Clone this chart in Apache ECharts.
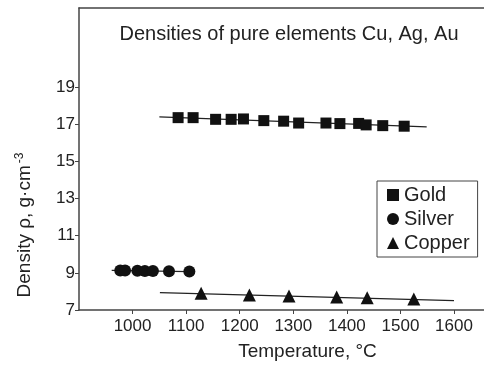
<!DOCTYPE html>
<html>
<head>
<meta charset="utf-8">
<script src="https://cdn.jsdelivr.net/npm/echarts@6/dist/echarts.min.js"></script>
<style>
  html, body { margin: 0; padding: 0; background: #fff; }
  #chart { width: 484px; height: 367px; }
</style>
</head>
<body>
<div id="chart"></div>
<script>
// temperatures in °C, densities in g/cm3
const goldT = [1085, 1113, 1155, 1184, 1207, 1245, 1282, 1310, 1361, 1387, 1422, 1436, 1467, 1507]
const goldRho = [17.35, 17.35, 17.26, 17.26, 17.28, 17.19, 17.16, 17.06, 17.06, 17.03, 17.04, 16.96, 16.92, 16.89]
const silverT = [977, 986, 1009, 1023, 1038, 1068, 1106]
const silverRho = [9.12, 9.12, 9.11, 9.1, 9.1, 9.09, 9.07]
const copperT = [1128, 1218, 1292, 1381, 1438, 1525]
const copperRho = [7.9, 7.81, 7.75, 7.7, 7.66, 7.59]

// fitted lines (end points)
const goldFitT = [1050, 1549]
const goldFitRho = [17.39, 16.85]
const silverFitT = [961, 1107]
const silverFitRho = [9.13, 9.07]
const copperFitT = [1051, 1600]
const copperFitRho = [7.93, 7.5]

const xTicks = [1000, 1100, 1200, 1300, 1400, 1500, 1600]
const yTicks = [7, 9, 11, 13, 15, 17, 19]

const zip = (a, b) => a.map((v, i) => [v, b[i]])

const font = 'Liberation Sans, Arial, sans-serif'
const ink = '#111'
const axisColor = '#444'

const chart = echarts.init(document.getElementById('chart'), null, { renderer: 'canvas' })

function fitLine(name, t, r) {
  return {
    name: name + ' fit',
    type: 'line',
    data: zip(t, r),
    showSymbol: false,
    symbol: 'none',
    silent: true,
    lineStyle: { color: '#222', width: 1.2 },
    z: 1,
  }
}

function points(name, t, r, symbol, size) {
  return {
    name: name,
    type: 'scatter',
    data: zip(t, r),
    symbol: symbol,
    symbolSize: size,
    itemStyle: { color: ink, opacity: 1 },
    z: 3,
  }
}

chart.setOption({
  animation: false,
  textStyle: { fontFamily: font },
  title: {
    text: 'Densities of pure elements Cu, Ag, Au',
    left: 284,
    top: 19,
    textAlign: 'center',
    textStyle: { fontSize: 20, fontWeight: 'normal', color: '#222', fontFamily: font },
  },
  grid: { left: 79, right: 0, top: 8, bottom: 57 },
  legend: {
    orient: 'vertical',
    left: 377,
    top: 181,
    data: [
      { name: 'Gold', icon: 'rect' },
      { name: 'Silver', icon: 'circle' },
      { name: 'Copper', icon: 'triangle' },
    ],
    itemWidth: 12,
    itemHeight: 12,
    itemGap: 4,
    padding: [4, 8, 4, 10],
    borderColor: '#444',
    borderWidth: 1,
    textStyle: { fontSize: 20, color: '#222', fontFamily: font, padding: [0, 0, 0, 0] },
  },
  xAxis: [
    {
      type: 'value',
      min: 900,
      max: 1656,
      name: 'Temperature, °C',
      nameLocation: 'middle',
      nameGap: 32,
      nameTextStyle: { fontSize: 19, color: '#222', fontFamily: font, padding: [0, 0, 0, 52] },
      axisLine: { show: true, lineStyle: { color: axisColor, width: 1.5 } },
      axisTick: { show: true, length: 4, customValues: xTicks, lineStyle: { color: axisColor } },
      axisLabel: {
        customValues: xTicks,
        formatter: (v) => String(v),
        fontSize: 17,
        color: '#222',
        margin: 8,
        fontFamily: font,
      },
      splitLine: { show: false },
    },
    {
      type: 'value',
      position: 'top',
      min: 900,
      max: 1656,
      axisLine: { show: true, onZero: false, lineStyle: { color: axisColor, width: 1.5 } },
      axisTick: { show: false },
      axisLabel: { show: false },
      splitLine: { show: false },
    },
  ],
  yAxis: {
    type: 'value',
    min: 7,
    max: 23.25,
    axisLine: { show: true, lineStyle: { color: axisColor, width: 1.5 } },
    axisTick: { show: true, length: 4, customValues: yTicks, lineStyle: { color: axisColor } },
    axisLabel: {
      customValues: yTicks,
      formatter: (v) => String(v),
      fontSize: 17,
      color: '#222',
      margin: 4,
      fontFamily: font,
    },
    splitLine: { show: false },
  },
  graphic: [
    {
      type: 'text',
      x: 14,
      y: 225,
      rotation: Math.PI / 2,
      style: {
        text: 'Density ρ, g·cm{sup|-3}',
        font: '19px ' + font,
        fill: '#222',
        align: 'center',
        verticalAlign: 'top',
        rich: {
          sup: { fontSize: 12, verticalAlign: 'top', padding: [0, 0, 10, 2] },
        },
      },
    },
  ],
  series: [
    fitLine('Gold', goldFitT, goldFitRho),
    fitLine('Silver', silverFitT, silverFitRho),
    fitLine('Copper', copperFitT, copperFitRho),
    points('Gold', goldT, goldRho, 'rect', 11),
    points('Silver', silverT, silverRho, 'circle', 12),
    points('Copper', copperT, copperRho, 'triangle', 13),
  ],
})
</script>
</body>
</html>
